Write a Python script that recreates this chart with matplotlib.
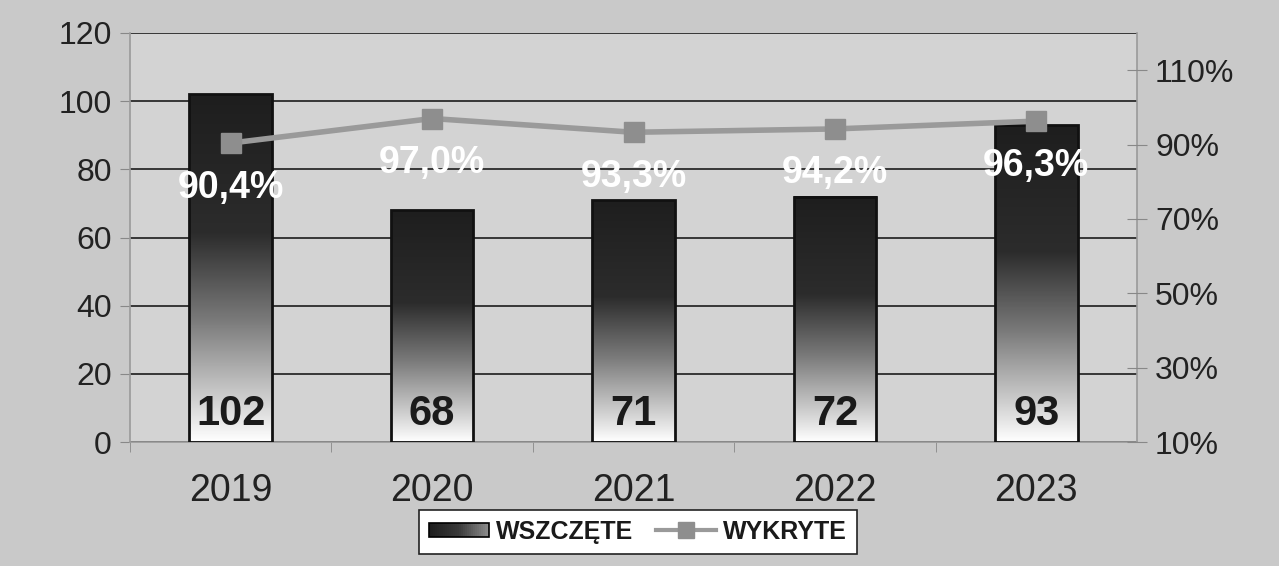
import matplotlib.pyplot as plt
import numpy as np
from matplotlib.colors import LinearSegmentedColormap
from matplotlib.legend_handler import HandlerBase
from matplotlib.patches import Rectangle
from matplotlib.lines import Line2D

plt.rcParams['font.family'] = ['Liberation Sans', 'DejaVu Sans']

years = ['2019', '2020', '2021', '2022', '2023']
wszczete = [102, 68, 71, 72, 93]
wykryte = [90.4, 97.0, 93.3, 94.2, 96.3]
pct_labels = ['90,4%', '97,0%', '93,3%', '94,2%', '96,3%']

# gradient: 0 = bottom of bar (white), 1 = top (dark)
bar_cmap = LinearSegmentedColormap.from_list(
    'bar', [(0.0, '#ffffff'), (0.12, '#d0d0d0'), (0.35, '#7a7a7a'),
            (0.6, '#2c2c2c'), (1.0, '#1e1e1e')])
leg_cmap = LinearSegmentedColormap.from_list('leg', ['#1e1e1e', '#3a3a3a', '#8a8a8a'])


class GradHandler(HandlerBase):
    def create_artists(self, legend, orig_handle, xdescent, ydescent,
                       width, height, fontsize, trans):
        arts = []
        n = 30
        x0, y0 = -xdescent, -ydescent + height * 0.1
        h = height * 0.8
        for i in range(n):
            r = Rectangle((x0 + width * i / n, y0), width / n + 0.3, h,
                          facecolor=leg_cmap(i / (n - 1)), edgecolor='none',
                          transform=trans)
            arts.append(r)
        arts.append(Rectangle((x0, y0), width, h, facecolor='none',
                              edgecolor='black', lw=1.2, transform=trans))
        return arts


fig = plt.figure(figsize=(12.79, 5.66), dpi=100)
fig.patch.set_facecolor('#c9c9c9')
ax = fig.add_axes([130 / 1279, 1 - 442 / 566, (1137 - 130) / 1279, (442 - 33) / 566])
ax.set_facecolor('#d3d3d3')

x = np.arange(len(years))
w = 0.41
ax.set_xlim(-0.5, 4.5)
ax.set_ylim(0, 120)

grad = np.linspace(0, 1, 256).reshape(-1, 1)
for xi, v in zip(x, wszczete):
    ax.imshow(grad, cmap=bar_cmap, origin='lower', aspect='auto',
              extent=(xi - w / 2, xi + w / 2, 0, v), zorder=2)
    ax.add_patch(Rectangle((xi - w / 2, 0), w, v, facecolor='none',
                           edgecolor='#111111', lw=2, zorder=3))
    ax.annotate(str(v), (xi, 0), xytext=(0, 20), textcoords='offset points',
                ha='center', va='center', fontsize=30, fontweight='bold',
                color='#1a1a1a', zorder=6)

ax.set_yticks(range(0, 121, 20))
ax.grid(axis='y', color='#2a2a2a', lw=1.3, zorder=1)
ax.set_axisbelow(True)
ax.tick_params(axis='y', labelsize=23, colors='#888888', labelcolor='#222222',
               length=7, pad=6)
ax.set_xticks(x - 0.5, minor=True)
ax.set_xticks(x)
ax.set_xticklabels(years)
ax.tick_params(axis='x', which='major', length=0, labelsize=27,
               labelcolor='#222222', pad=22)
ax.tick_params(axis='x', which='minor', length=7, color='#888888')
for s in ['left', 'right', 'bottom']:
    ax.spines[s].set_color('#9a9a9a')
    ax.spines[s].set_linewidth(1.2)
ax.spines['top'].set_visible(False)

ax2 = ax.twinx()
ax2.set_ylim(10, 120)
ax2.set_yticks(range(10, 111, 20))
ax2.set_yticklabels([f'{t}%' for t in range(10, 111, 20)])
ax2.tick_params(axis='y', labelsize=23, colors='#888888', labelcolor='#222222',
                direction='inout', length=14, pad=6)
for s in ['left', 'right', 'bottom', 'top']:
    ax2.spines[s].set_visible(False)
ax2.plot(x, wykryte, color='#9a9a9a', lw=4, marker='s', markersize=15,
         markerfacecolor='#8e8e8e', markeredgecolor='#8e8e8e', zorder=4)
for xi, v, lab in zip(x, wykryte, pct_labels):
    ax2.annotate(lab, (xi, v), xytext=(0, -32), textcoords='offset points',
                 ha='center', va='center', fontsize=27, fontweight='bold',
                 color='white', zorder=6)

h1 = Rectangle((0, 0), 1, 1)
h2 = Line2D([], [], color='#9a9a9a', lw=3, marker='s', markersize=11,
            markerfacecolor='#8e8e8e', markeredgecolor='#8e8e8e')
leg = fig.legend([h1, h2], ['WSZCZĘTE', 'WYKRYTE'], loc='center',
                 bbox_to_anchor=(638 / 1279, 1 - 532 / 566), ncol=2,
                 handler_map={Rectangle: GradHandler()},
                 prop={'size': 18, 'weight': 'bold'}, handlelength=2.4,
                 handletextpad=0.3, columnspacing=0.9, fancybox=False,
                 framealpha=1, borderpad=0.4)
leg.get_frame().set_edgecolor('#222222')
leg.get_frame().set_linewidth(1.2)
for t in leg.get_texts():
    t.set_color('#1a1a1a')

fig.savefig('out.png', dpi=100, facecolor=fig.get_facecolor())
